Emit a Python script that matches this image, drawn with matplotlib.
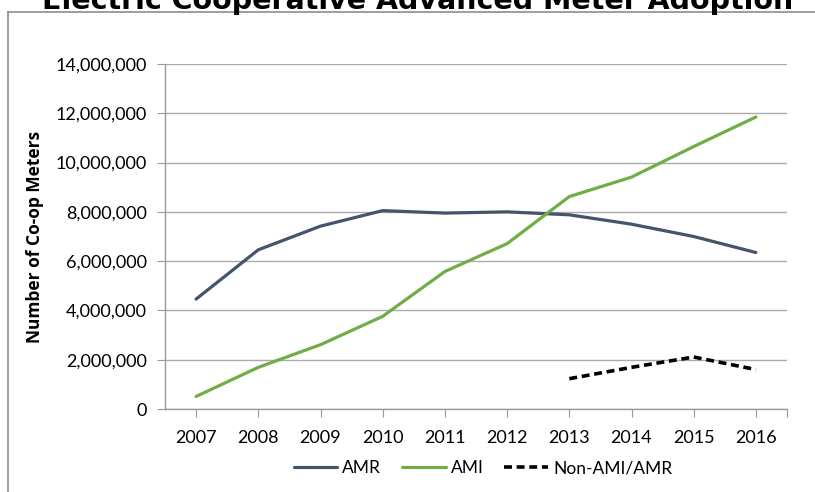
import matplotlib
matplotlib.use("Agg")
import matplotlib.pyplot as plt
import matplotlib.ticker as ticker
from matplotlib.lines import Line2D

# ── Data ──────────────────────────────────────────────────────────────────────
years = ["2007", "2008", "2009", "2010", "2011", "2012", "2013", "2014", "2015", "2016"]
amr = [4460000, 6460000, 7420000, 8050000, 7950000, 8000000, 7880000, 7500000, 7000000, 6350000]
ami = [510000, 1690000, 2610000, 3760000, 5580000, 6710000, 8620000, 9410000, 10650000, 11850000]
non_years = ["2013", "2014", "2015", "2016"]
non_ami_amr = [1230000, 1690000, 2110000, 1600000]
# ─────────────────────────────────────────────────────────────────────────────

W, H = 815, 492
fig = plt.figure(figsize=(W / 100, H / 100), dpi=100)
ax = fig.add_axes([165 / W, 1 - 409 / H, (787 - 165) / W, (409 - 64) / H])

tick_font = "Lato"
x = list(range(len(years)))
x_non = [years.index(y) for y in non_years]

ax.plot(x, amr, color="#44546A", lw=2.3, label="AMR", solid_capstyle="round")
ax.plot(x, ami, color="#70AD47", lw=2.3, label="AMI", solid_capstyle="round")
ax.plot(x_non, non_ami_amr, color="black", lw=2.6, ls=(0, (2.2, 1.3)),
        label="Non-AMI/AMR")

ax.set_xlim(-0.5, len(years) - 0.5)
ax.set_ylim(0, 14000000)
ax.yaxis.set_major_locator(ticker.MultipleLocator(2000000))
ax.yaxis.set_major_formatter(ticker.FuncFormatter(lambda v, p: f"{int(v):,}"))
ax.set_xticks(x + [len(years) - 0.5])
ax.set_xticklabels(years + [""])

ax.grid(True, axis="y", color="#ABABAB", lw=1.0)
ax.set_axisbelow(True)
for side in ("top", "right"):
    ax.spines[side].set_visible(False)
for side in ("left", "bottom"):
    ax.spines[side].set_color("#9A9A9A")
    ax.spines[side].set_linewidth(1.0)

ax.tick_params(axis="y", direction="out", length=6, color="#9A9A9A", pad=7,
               labelsize=13)
ax.tick_params(axis="x", direction="out", length=6, color="#9A9A9A", pad=9,
               labelsize=13)
for lab in ax.get_xticklabels() + ax.get_yticklabels():
    lab.set_fontfamily(tick_font)

ax.set_ylabel("Number of Co-op Meters", fontsize=12.5, fontweight="bold",
              family="Open Sans", labelpad=8)

leg = fig.legend(loc="center", bbox_to_anchor=(483 / W, 1 - 468 / H), ncol=3,
                 frameon=False, handlelength=2.5, handletextpad=0.3,
                 columnspacing=1.2, prop={"family": tick_font, "size": 12.5})

# title, mostly cut off by the top edge
fig.text(418 / W, 1 - 9 / H, "Electric Cooperative Advanced Meter Adoption",
         ha="center", va="baseline", fontsize=20.5, fontweight="bold",
         family="DejaVu Sans")

# chart border (partly outside the image)
fig.add_artist(Line2D([8 / W, 1.0], [1 - 11.5 / H, 1 - 11.5 / H],
                      transform=fig.transFigure, color="#8C8C8C", lw=1.2))
fig.add_artist(Line2D([8 / W, 8 / W], [0.0, 1 - 11.5 / H],
                      transform=fig.transFigure, color="#8C8C8C", lw=1.2))

fig.savefig("out.png", dpi=100)
